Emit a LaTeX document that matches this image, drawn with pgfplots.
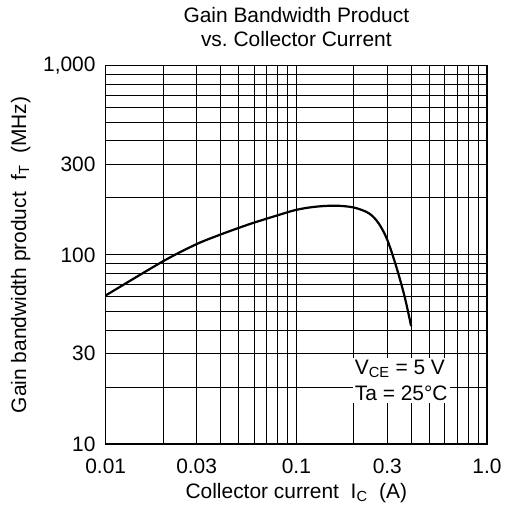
\documentclass[border=0pt]{standalone}
\usepackage{pgfplots}
\pgfplotsset{compat=1.18}
\usepackage{fontspec}
\setmainfont{Liberation Sans}
\begin{document}
\begin{tikzpicture}[font=\fontsize{21}{24.5}\selectfont]
\begin{axis}[
  xmode=log, ymode=log,
  scale only axis,
  width=381.3bp, height=378.3bp,
  xmin=0.01, xmax=1, ymin=10, ymax=1000,
  xtick={0.01,0.03,0.1,0.3,1},
  xticklabels={\mbox{0.01},\mbox{0.03},\mbox{0.1},\mbox{0.3},\mbox{1.0}},
  ytick={10,30,100,300,1000},
  yticklabels={\mbox{10},\mbox{30},\mbox{100},\mbox{300},\mbox{1,000}},
  minor xtick={0.02,0.04,0.05,0.06,0.07,0.08,0.09,0.2,0.4,0.5,0.6,0.7,0.8,0.9},
  minor ytick={20,40,50,60,70,80,90,200,400,500,600,700,800,900},
  major tick length=0pt, minor tick length=0pt,
  grid=both,
  major grid style={black, line width=1bp},
  minor grid style={black, line width=1bp},
  axis line style={black, line width=1.2bp},
  xticklabel style={inner sep=1bp, yshift=-14bp},
  yticklabel style={inner sep=1bp, xshift=-9bp},
  xlabel={Collector current\ \ I\textsubscript{C}\ \ (A)},
  ylabel={Gain bandwidth product\ \ f\textsubscript{T}\ \ (MHz)},
  xlabel style={at={(axis description cs:0.5,-0.13)}, anchor=center},
  ylabel style={at={(axis description cs:-0.223,0.5)}, anchor=center},
  title={Gain Bandwidth Product\\vs.\ Collector Current},
  title style={align=center, at={(axis description cs:0.5,1)}, anchor=south, yshift=9bp},
  clip=true,
]
\addplot[black, line width=2.2bp, smooth, tension=0.5] coordinates {
  (0.01,61) (0.02,92.5) (0.03,114) (0.04,128) (0.05,139) (0.06,148)
  (0.08,162) (0.1,173) (0.125,179.5) (0.16,182) (0.2,178) (0.24,166)
  (0.27,147) (0.3,120) (0.335,86) (0.37,60) (0.4,42)
};
\node[fill=white, inner sep=2pt, align=left, font=\fontsize{21}{26}\selectfont] at (axis cs:0.355,21.7) {V\textsubscript{CE} = 5 V\\Ta = 25°C};
\end{axis}
\pgfresetboundingbox
\useasboundingbox (-105.7bp,-69bp) rectangle (408.3bp,444bp);
\end{tikzpicture}
\end{document}
